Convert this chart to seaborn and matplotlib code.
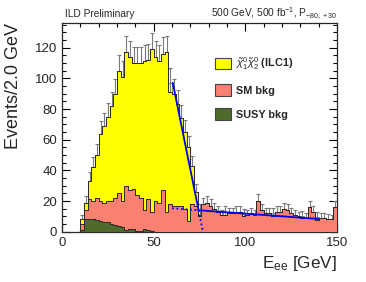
# -*- coding: utf-8 -*-

### E_ee spectrum, stacked signal + backgrounds with edge fit ###

import numpy as np
import pandas as pd
import matplotlib.pyplot as plt
from matplotlib.patches import Patch
from matplotlib.ticker import MultipleLocator
import seaborn as sns

sns.set_style("ticks")
plt.rcParams['font.family'] = ['Liberation Sans', 'DejaVu Sans']
plt.rcParams['mathtext.fontset'] = 'custom'
plt.rcParams['mathtext.rm'] = 'Liberation Sans'
plt.rcParams['mathtext.it'] = 'Liberation Sans:italic'
plt.rcParams['mathtext.bf'] = 'Liberation Sans:bold'

## data (events per 2 GeV bin, lower bin edges 10..148 GeV) ##
bin_lo = np.arange(10, 150, 2)

signal = [3, 5, 12, 22, 28, 44, 50, 55, 62, 68,
          80, 81, 87, 87, 82, 86, 88, 97, 91, 106,
          94, 92, 89, 104, 73, 73, 66, 57, 50, 48,
          25, 9, 0] + [0] * 37

sm_bkg = [4, 6, 13, 11.5, 14.5, 13, 12.5, 13.5, 15, 17.5,
          21.5, 17, 29, 25, 26.5, 23.5, 21.5, 12, 20, 12.7,
          20, 19, 27, 13, 18, 17, 17, 17, 15, 7,
          18, 17, 10,
          18, 19, 17, 15, 13, 11, 11, 12, 12, 13,
          13, 10, 11, 12, 11, 20, 14, 12, 12, 10,
          13, 13, 15, 14, 12, 11, 10, 9, 9, 16,
          13, 7.5, 9, 9, 8.5, 8, 16]

susy_bkg = [1, 8, 8, 8.5, 7.5, 7, 6.5, 6.5, 5, 4.5,
            3.5, 3, 1, 2, 1.5, 0.5, 0.5, 2, 1, 0.3] + [0] * 50

# bins where the total sample lies above the stacked histogram
excess_bins = [58, 74, 88, 98, 114, 130, 138]
excess_vals = [6, 4, 2, 1.5, 2, 1.5, 2]

# kinked-line edge fit
edge_x, edge_y = 74.5, 14.0
slope_sig, slope_bkg = -5.9, -0.087
fit_lo, fit_hi = 60.4, 140.0

labels = [r'$\tilde{\chi}^{0}_{1}\tilde{\chi}^{0}_{2}$ (ILC1)', 'SM bkg', 'SUSY bkg']
colors = ['#ffff00', '#fa8072', '#4f6b2b']

## build frames ##
df = pd.DataFrame({
    'E': np.tile(bin_lo + 1.0, 3),
    'n': np.concatenate([signal, sm_bkg, susy_bkg]),
    'proc': np.repeat(labels, len(bin_lo)),
})
edges = list(range(0, 152, 2))

stack_top = np.array(signal) + np.array(sm_bkg) + np.array(susy_bkg)
total = stack_top.copy()
for b, v in zip(excess_bins, excess_vals):
    total[list(bin_lo).index(b)] += v

## plot ##
fig = plt.figure(figsize=(3.66, 2.82), dpi=100)
ax = fig.add_axes([0.1694, 0.1784, 0.7514, 0.7411])

ax.bar(bin_lo, total, width=2, align='edge', color='white',
       edgecolor='#808080', linewidth=0.7, zorder=1)
ax.errorbar(bin_lo + 1.0, total, yerr=np.sqrt(total), fmt='none',
            ecolor='#7a7a7a', elinewidth=0.8, capsize=1.3, capthick=0.8, zorder=2)

sns.histplot(data=df, x='E', weights='n', hue='proc', hue_order=labels,
             multiple='stack', bins=edges, element='step', palette=colors,
             alpha=1, edgecolor='#2a2a2a', linewidth=0.7, legend=False,
             ax=ax, zorder=3)

# fit lines
xs = np.array([fit_lo, edge_x])
ax.plot(xs, edge_y + slope_sig * (xs - edge_x), color='#0000ee', lw=1.3, zorder=4)
xb = np.array([edge_x, fit_hi])
ax.plot(xb, edge_y + slope_bkg * (xb - edge_x), color='#0000ee', lw=1.3, zorder=4)
xd = np.array([60.0, edge_x])
ax.plot(xd, edge_y + slope_bkg * (xd - edge_x), color='#0000ee', lw=1.3,
        ls=(0, (1, 1.5)), zorder=4)
xz = np.array([edge_x, edge_x - edge_y / slope_sig])
ax.plot(xz, edge_y + slope_sig * (xz - edge_x), color='#0000ee', lw=1.3,
        ls=(0, (1, 1.5)), zorder=4)

ax.set_xlim(0, 150)
ax.set_ylim(0, 136.3)
ax.set_xticks([0, 50, 100, 150])
ax.xaxis.set_minor_locator(MultipleLocator(10))
ax.set_yticks(range(0, 121, 20))
ax.yaxis.set_minor_locator(MultipleLocator(5))
ax.tick_params(which='both', direction='in', top=True, right=True, width=0.8,
               labelsize=9.5, color='black')
ax.tick_params(which='major', length=5.5, pad=3.5)
ax.tick_params(which='minor', length=2.8)
for s in ax.spines.values():
    s.set_linewidth(0.9)

ax.set_ylabel('Events/2.0 GeV', loc='top', fontsize=13)
ax.yaxis.set_label_coords(-0.145, 1.0)
ax.set_xlabel(r'E$_{\mathrm{ee}}$ [GeV]', loc='right', fontsize=12.3)
ax.xaxis.set_label_coords(1.0, -0.105)

ax.text(0.01, 1.027, 'ILD Preliminary', transform=ax.transAxes,
        fontsize=7.3, va='baseline', ha='left')
ax.text(1.0, 1.027, r'500 GeV, 500 fb$^{-1}$, P$_{-80,+30}$', transform=ax.transAxes,
        fontsize=7.3, va='baseline', ha='right')

handles = [Patch(facecolor=c, edgecolor='#444444', linewidth=0.8) for c in colors]
leg = ax.legend(handles, labels, loc='upper left', bbox_to_anchor=(0.556, 0.845),
                frameon=False, borderpad=0, borderaxespad=0, handlelength=1.45,
                handleheight=1.25, labelspacing=1.15, handletextpad=0.5,
                prop={'size': 7.8, 'weight': 'bold'})

fig.savefig('out.png', dpi=100)
